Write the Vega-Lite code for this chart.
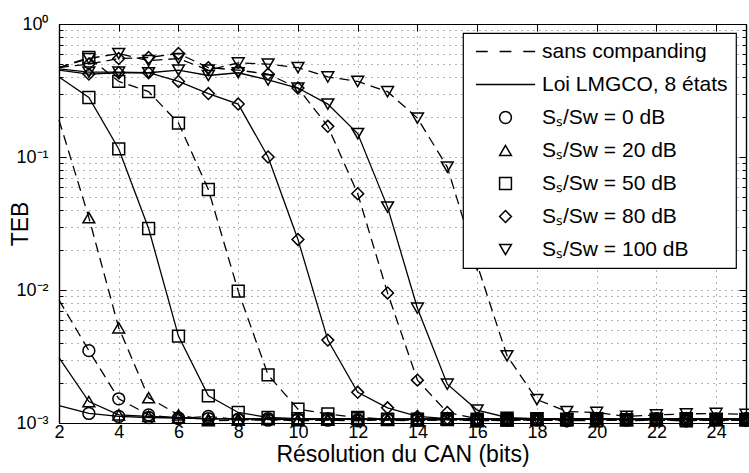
{
"$schema": "https://vega.github.io/schema/vega-lite/v6.json",
"width": 687, "height": 399,
"autosize": {"type": "none"},
"padding": {"left": 59, "top": 24, "right": 3, "bottom": 50},
"background": "white",
"datasets": {"curves": [
{"method":"sans","snr":"0","x":2,"y":0.0084},{"method":"sans","snr":"0","x":3,"y":0.0035},{"method":"sans","snr":"0","x":4,"y":0.00152},{"method":"sans","snr":"0","x":5,"y":0.00115},{"method":"sans","snr":"0","x":6,"y":0.00108},{"method":"sans","snr":"0","x":7,"y":0.00112},{"method":"sans","snr":"0","x":8,"y":0.00106},{"method":"sans","snr":"0","x":9,"y":0.00105},{"method":"sans","snr":"0","x":10,"y":0.00107},{"method":"sans","snr":"0","x":11,"y":0.00105},{"method":"sans","snr":"0","x":12,"y":0.00104},{"method":"sans","snr":"0","x":13,"y":0.00106},{"method":"sans","snr":"0","x":14,"y":0.00105},{"method":"sans","snr":"0","x":15,"y":0.00107},{"method":"sans","snr":"0","x":16,"y":0.00104},{"method":"sans","snr":"0","x":17,"y":0.00106},{"method":"sans","snr":"0","x":18,"y":0.00105},{"method":"sans","snr":"0","x":19,"y":0.00104},{"method":"sans","snr":"0","x":20,"y":0.00106},{"method":"sans","snr":"0","x":21,"y":0.00105},{"method":"sans","snr":"0","x":22,"y":0.00107},{"method":"sans","snr":"0","x":23,"y":0.00104},{"method":"sans","snr":"0","x":24,"y":0.00106},{"method":"sans","snr":"0","x":25,"y":0.00105},
{"method":"loi","snr":"0","x":2,"y":0.00135},{"method":"loi","snr":"0","x":3,"y":0.00118},{"method":"loi","snr":"0","x":4,"y":0.00112},{"method":"loi","snr":"0","x":5,"y":0.0011},{"method":"loi","snr":"0","x":6,"y":0.00109},{"method":"loi","snr":"0","x":7,"y":0.00108},{"method":"loi","snr":"0","x":8,"y":0.00107},{"method":"loi","snr":"0","x":9,"y":0.00108},{"method":"loi","snr":"0","x":10,"y":0.00107},{"method":"loi","snr":"0","x":11,"y":0.00108},{"method":"loi","snr":"0","x":12,"y":0.00106},{"method":"loi","snr":"0","x":13,"y":0.00107},{"method":"loi","snr":"0","x":14,"y":0.00108},{"method":"loi","snr":"0","x":15,"y":0.00107},{"method":"loi","snr":"0","x":16,"y":0.00106},{"method":"loi","snr":"0","x":17,"y":0.00108},{"method":"loi","snr":"0","x":18,"y":0.00107},{"method":"loi","snr":"0","x":19,"y":0.00108},{"method":"loi","snr":"0","x":20,"y":0.00106},{"method":"loi","snr":"0","x":21,"y":0.00107},{"method":"loi","snr":"0","x":22,"y":0.00108},{"method":"loi","snr":"0","x":23,"y":0.00107},{"method":"loi","snr":"0","x":24,"y":0.00106},{"method":"loi","snr":"0","x":25,"y":0.00108},
{"method":"sans","snr":"20","x":2,"y":0.19},{"method":"sans","snr":"20","x":3,"y":0.035},{"method":"sans","snr":"20","x":4,"y":0.0052},{"method":"sans","snr":"20","x":5,"y":0.00155},{"method":"sans","snr":"20","x":6,"y":0.00115},{"method":"sans","snr":"20","x":7,"y":0.00104},{"method":"sans","snr":"20","x":8,"y":0.00105},{"method":"sans","snr":"20","x":9,"y":0.00106},{"method":"sans","snr":"20","x":10,"y":0.00104},{"method":"sans","snr":"20","x":11,"y":0.00105},{"method":"sans","snr":"20","x":12,"y":0.00107},{"method":"sans","snr":"20","x":13,"y":0.00105},{"method":"sans","snr":"20","x":14,"y":0.00104},{"method":"sans","snr":"20","x":15,"y":0.00106},{"method":"sans","snr":"20","x":16,"y":0.00105},{"method":"sans","snr":"20","x":17,"y":0.00104},{"method":"sans","snr":"20","x":18,"y":0.00106},{"method":"sans","snr":"20","x":19,"y":0.00105},{"method":"sans","snr":"20","x":20,"y":0.00107},{"method":"sans","snr":"20","x":21,"y":0.00104},{"method":"sans","snr":"20","x":22,"y":0.00105},{"method":"sans","snr":"20","x":23,"y":0.00106},{"method":"sans","snr":"20","x":24,"y":0.00104},{"method":"sans","snr":"20","x":25,"y":0.00105},
{"method":"loi","snr":"20","x":2,"y":0.0031},{"method":"loi","snr":"20","x":3,"y":0.00145},{"method":"loi","snr":"20","x":4,"y":0.00115},{"method":"loi","snr":"20","x":5,"y":0.00112},{"method":"loi","snr":"20","x":6,"y":0.0011},{"method":"loi","snr":"20","x":7,"y":0.00107},{"method":"loi","snr":"20","x":8,"y":0.00108},{"method":"loi","snr":"20","x":9,"y":0.00107},{"method":"loi","snr":"20","x":10,"y":0.00106},{"method":"loi","snr":"20","x":11,"y":0.00108},{"method":"loi","snr":"20","x":12,"y":0.00107},{"method":"loi","snr":"20","x":13,"y":0.00108},{"method":"loi","snr":"20","x":14,"y":0.00106},{"method":"loi","snr":"20","x":15,"y":0.00107},{"method":"loi","snr":"20","x":16,"y":0.00108},{"method":"loi","snr":"20","x":17,"y":0.00107},{"method":"loi","snr":"20","x":18,"y":0.00106},{"method":"loi","snr":"20","x":19,"y":0.00108},{"method":"loi","snr":"20","x":20,"y":0.00107},{"method":"loi","snr":"20","x":21,"y":0.00106},{"method":"loi","snr":"20","x":22,"y":0.00108},{"method":"loi","snr":"20","x":23,"y":0.00107},{"method":"loi","snr":"20","x":24,"y":0.00108},{"method":"loi","snr":"20","x":25,"y":0.00106},
{"method":"sans","snr":"50","x":2,"y":0.47},{"method":"sans","snr":"50","x":3,"y":0.56},{"method":"sans","snr":"50","x":4,"y":0.37},{"method":"sans","snr":"50","x":5,"y":0.31},{"method":"sans","snr":"50","x":6,"y":0.18},{"method":"sans","snr":"50","x":7,"y":0.057},{"method":"sans","snr":"50","x":8,"y":0.0098},{"method":"sans","snr":"50","x":9,"y":0.0023},{"method":"sans","snr":"50","x":10,"y":0.00127},{"method":"sans","snr":"50","x":11,"y":0.00117},{"method":"sans","snr":"50","x":12,"y":0.0011},{"method":"sans","snr":"50","x":13,"y":0.00107},{"method":"sans","snr":"50","x":14,"y":0.00105},{"method":"sans","snr":"50","x":15,"y":0.00106},{"method":"sans","snr":"50","x":16,"y":0.00104},{"method":"sans","snr":"50","x":17,"y":0.00105},{"method":"sans","snr":"50","x":18,"y":0.00107},{"method":"sans","snr":"50","x":19,"y":0.00105},{"method":"sans","snr":"50","x":20,"y":0.00104},{"method":"sans","snr":"50","x":21,"y":0.00106},{"method":"sans","snr":"50","x":22,"y":0.00105},{"method":"sans","snr":"50","x":23,"y":0.00104},{"method":"sans","snr":"50","x":24,"y":0.00106},{"method":"sans","snr":"50","x":25,"y":0.00105},
{"method":"loi","snr":"50","x":2,"y":0.40},{"method":"loi","snr":"50","x":3,"y":0.28},{"method":"loi","snr":"50","x":4,"y":0.115},{"method":"loi","snr":"50","x":5,"y":0.029},{"method":"loi","snr":"50","x":6,"y":0.0045},{"method":"loi","snr":"50","x":7,"y":0.0016},{"method":"loi","snr":"50","x":8,"y":0.0012},{"method":"loi","snr":"50","x":9,"y":0.0011},{"method":"loi","snr":"50","x":10,"y":0.00108},{"method":"loi","snr":"50","x":11,"y":0.00107},{"method":"loi","snr":"50","x":12,"y":0.00108},{"method":"loi","snr":"50","x":13,"y":0.00106},{"method":"loi","snr":"50","x":14,"y":0.00107},{"method":"loi","snr":"50","x":15,"y":0.00108},{"method":"loi","snr":"50","x":16,"y":0.00107},{"method":"loi","snr":"50","x":17,"y":0.00106},{"method":"loi","snr":"50","x":18,"y":0.00108},{"method":"loi","snr":"50","x":19,"y":0.00107},{"method":"loi","snr":"50","x":20,"y":0.00108},{"method":"loi","snr":"50","x":21,"y":0.00106},{"method":"loi","snr":"50","x":22,"y":0.00107},{"method":"loi","snr":"50","x":23,"y":0.00108},{"method":"loi","snr":"50","x":24,"y":0.00107},{"method":"loi","snr":"50","x":25,"y":0.00106},
{"method":"sans","snr":"80","x":2,"y":0.47},{"method":"sans","snr":"80","x":3,"y":0.5},{"method":"sans","snr":"80","x":4,"y":0.55},{"method":"sans","snr":"80","x":5,"y":0.56},{"method":"sans","snr":"80","x":6,"y":0.6},{"method":"sans","snr":"80","x":7,"y":0.47},{"method":"sans","snr":"80","x":8,"y":0.45},{"method":"sans","snr":"80","x":9,"y":0.42},{"method":"sans","snr":"80","x":10,"y":0.33},{"method":"sans","snr":"80","x":11,"y":0.17},{"method":"sans","snr":"80","x":12,"y":0.053},{"method":"sans","snr":"80","x":13,"y":0.0095},{"method":"sans","snr":"80","x":14,"y":0.0021},{"method":"sans","snr":"80","x":15,"y":0.0012},{"method":"sans","snr":"80","x":16,"y":0.00108},{"method":"sans","snr":"80","x":17,"y":0.00105},{"method":"sans","snr":"80","x":18,"y":0.00106},{"method":"sans","snr":"80","x":19,"y":0.00104},{"method":"sans","snr":"80","x":20,"y":0.00105},{"method":"sans","snr":"80","x":21,"y":0.00107},{"method":"sans","snr":"80","x":22,"y":0.00105},{"method":"sans","snr":"80","x":23,"y":0.00104},{"method":"sans","snr":"80","x":24,"y":0.00106},{"method":"sans","snr":"80","x":25,"y":0.00105},
{"method":"loi","snr":"80","x":2,"y":0.45},{"method":"loi","snr":"80","x":3,"y":0.42},{"method":"loi","snr":"80","x":4,"y":0.43},{"method":"loi","snr":"80","x":5,"y":0.43},{"method":"loi","snr":"80","x":6,"y":0.37},{"method":"loi","snr":"80","x":7,"y":0.30},{"method":"loi","snr":"80","x":8,"y":0.25},{"method":"loi","snr":"80","x":9,"y":0.10},{"method":"loi","snr":"80","x":10,"y":0.024},{"method":"loi","snr":"80","x":11,"y":0.0042},{"method":"loi","snr":"80","x":12,"y":0.0017},{"method":"loi","snr":"80","x":13,"y":0.0013},{"method":"loi","snr":"80","x":14,"y":0.00112},{"method":"loi","snr":"80","x":15,"y":0.00108},{"method":"loi","snr":"80","x":16,"y":0.00107},{"method":"loi","snr":"80","x":17,"y":0.00108},{"method":"loi","snr":"80","x":18,"y":0.00106},{"method":"loi","snr":"80","x":19,"y":0.00107},{"method":"loi","snr":"80","x":20,"y":0.00108},{"method":"loi","snr":"80","x":21,"y":0.00107},{"method":"loi","snr":"80","x":22,"y":0.00106},{"method":"loi","snr":"80","x":23,"y":0.00108},{"method":"loi","snr":"80","x":24,"y":0.00107},{"method":"loi","snr":"80","x":25,"y":0.00108},
{"method":"sans","snr":"100","x":2,"y":0.47},{"method":"sans","snr":"100","x":3,"y":0.55},{"method":"sans","snr":"100","x":4,"y":0.6},{"method":"sans","snr":"100","x":5,"y":0.53},{"method":"sans","snr":"100","x":6,"y":0.55},{"method":"sans","snr":"100","x":7,"y":0.45},{"method":"sans","snr":"100","x":8,"y":0.51},{"method":"sans","snr":"100","x":9,"y":0.50},{"method":"sans","snr":"100","x":10,"y":0.47},{"method":"sans","snr":"100","x":11,"y":0.40},{"method":"sans","snr":"100","x":12,"y":0.37},{"method":"sans","snr":"100","x":13,"y":0.31},{"method":"sans","snr":"100","x":14,"y":0.196},{"method":"sans","snr":"100","x":15,"y":0.084},{"method":"sans","snr":"100","x":16,"y":0.0155},{"method":"sans","snr":"100","x":17,"y":0.0032},{"method":"sans","snr":"100","x":18,"y":0.0015},{"method":"sans","snr":"100","x":19,"y":0.00122},{"method":"sans","snr":"100","x":20,"y":0.0012},{"method":"sans","snr":"100","x":21,"y":0.00112},{"method":"sans","snr":"100","x":22,"y":0.00115},{"method":"sans","snr":"100","x":23,"y":0.00117},{"method":"sans","snr":"100","x":24,"y":0.00118},{"method":"sans","snr":"100","x":25,"y":0.00116},
{"method":"loi","snr":"100","x":2,"y":0.46},{"method":"loi","snr":"100","x":3,"y":0.435},{"method":"loi","snr":"100","x":4,"y":0.435},{"method":"loi","snr":"100","x":5,"y":0.43},{"method":"loi","snr":"100","x":6,"y":0.45},{"method":"loi","snr":"100","x":7,"y":0.41},{"method":"loi","snr":"100","x":8,"y":0.43},{"method":"loi","snr":"100","x":9,"y":0.38},{"method":"loi","snr":"100","x":10,"y":0.33},{"method":"loi","snr":"100","x":11,"y":0.25},{"method":"loi","snr":"100","x":12,"y":0.15},{"method":"loi","snr":"100","x":13,"y":0.042},{"method":"loi","snr":"100","x":14,"y":0.0073},{"method":"loi","snr":"100","x":15,"y":0.00196},{"method":"loi","snr":"100","x":16,"y":0.00125},{"method":"loi","snr":"100","x":17,"y":0.0011},{"method":"loi","snr":"100","x":18,"y":0.00108},{"method":"loi","snr":"100","x":19,"y":0.00107},{"method":"loi","snr":"100","x":20,"y":0.00108},{"method":"loi","snr":"100","x":21,"y":0.00106},{"method":"loi","snr":"100","x":22,"y":0.00107},{"method":"loi","snr":"100","x":23,"y":0.00108},{"method":"loi","snr":"100","x":24,"y":0.00107},{"method":"loi","snr":"100","x":25,"y":0.00108}
]},
"data": {"name": "curves"},
"layer": [
  {
    "transform": [{"filter": "datum.method === 'sans'"}],
    "mark": {"type": "line", "color": "black", "strokeWidth": 1.3, "strokeDash": [10, 6]},
    "encoding": {
      "detail": {"field": "snr", "type": "nominal"},
      "x": {"field": "x", "type": "quantitative", "scale": {"domain": [2, 25], "nice": false, "zero": false},
        "axis": {"orient": "bottom", "values": [2,4,6,8,10,12,14,16,18,20,22,24], "grid": true, "tickSize": -7, "labelPadding": 7, "labelFlush": false, "labelOverlap": false, "labelFontSize": 18, "title": "Résolution du CAN (bits)", "titleFontSize": 23, "titleFontWeight": "normal", "titlePadding": 2}},
      "y": {"field": "y", "type": "quantitative", "scale": {"type": "log", "domain": [0.001, 1], "nice": false},
        "axis": {"orient": "left", "values": [0.001,0.002,0.003,0.004,0.005,0.006,0.007,0.008,0.009,0.01,0.02,0.03,0.04,0.05,0.06,0.07,0.08,0.09,0.1,0.2,0.3,0.4,0.5,0.6,0.7,0.8,0.9,1], "grid": true, "tickSize": -4, "labels": false, "title": null}}
    }
  },
  {
    "transform": [{"filter": "datum.method === 'loi'"}],
    "mark": {"type": "line", "color": "black", "strokeWidth": 1.3},
    "encoding": {
      "detail": {"field": "snr", "type": "nominal"},
      "x": {"field": "x", "type": "quantitative", "scale": {"domain": [2, 25], "nice": false, "zero": false},
        "axis": {"orient": "top", "values": [2,4,6,8,10,12,14,16,18,20,22,24], "grid": false, "tickSize": -7, "labels": false, "title": null}},
      "y": {"field": "y", "type": "quantitative", "scale": {"type": "log", "domain": [0.001, 1], "nice": false},
        "axis": {"orient": "left", "values": [0.001, 0.01, 0.1, 1], "grid": false, "tickSize": -7, "labelPadding": 18, "labelFlush": false, "labelOverlap": false, "labelFontSize": 18,
          "labelExpr": "abs(datum.value - 1) < 1e-9 ? '10⁰' : abs(datum.value - 0.1) < 1e-9 ? '10⁻¹' : abs(datum.value - 0.01) < 1e-10 ? '10⁻²' : '10⁻³'",
          "title": "TEB", "titleFontSize": 23, "titleFontWeight": "normal", "titlePadding": -17}}
    }
  },
  {
    "transform": [{"filter": "datum.method === 'sans' && datum.x >= 3"}],
    "mark": {"type": "point", "filled": false, "color": "black", "opacity": 1, "size": 140, "strokeWidth": 1.5},
    "encoding": {
      "shape": {"field": "snr", "type": "nominal",
        "scale": {"domain": ["sans companding", "Loi LMGCO, 8 états", "0", "20", "50", "80", "100"],
                  "range": ["M-5,0H-3M-1,0H1M3,0H5", "M-5,0H5", "circle", "triangle-up", "square", "diamond", "triangle-down"]},
        "legend": {"orient": "none", "legendX": 404, "legendY": 9, "direction": "vertical", "title": null,
          "fillColor": "white", "strokeColor": "black", "padding": 8, "labelFont": "Liberation Sans", "labelFontSize": 21, "labelColor": "black", "labelLimit": 400,
          "symbolSize": 140, "symbolStrokeWidth": 1.5, "symbolStrokeColor": "black", "symbolFillColor": "transparent",
          "symbolOffset": 24, "labelOffset": 26, "rowPadding": 11,
          "labelExpr": "length(datum.label) < 4 ? 'Sₛ/Sw = ' + datum.label + ' dB' : datum.label"}},
      "x": {"field": "x", "type": "quantitative", "scale": {"domain": [2, 25], "nice": false, "zero": false}, "axis": null},
      "y": {"field": "y", "type": "quantitative", "scale": {"type": "log", "domain": [0.001, 1], "nice": false},
        "axis": {"orient": "right", "values": [0.001, 0.01, 0.1, 1], "grid": false, "tickSize": -7, "labels": false, "title": null}}
    }
  },
  {
    "transform": [{"filter": "datum.method === 'loi' && datum.x >= 3"}],
    "mark": {"type": "point", "filled": false, "color": "black", "opacity": 1, "size": 140, "strokeWidth": 1.5},
    "encoding": {
      "shape": {"field": "snr", "type": "nominal",
        "scale": {"domain": ["sans companding", "Loi LMGCO, 8 états", "0", "20", "50", "80", "100"],
                  "range": ["M-5,0H-3M-1,0H1M3,0H5", "M-5,0H5", "circle", "triangle-up", "square", "diamond", "triangle-down"]},
        "legend": {"orient": "none", "legendX": 404, "legendY": 9, "direction": "vertical", "title": null,
          "fillColor": "white", "strokeColor": "black", "padding": 8, "labelFont": "Liberation Sans", "labelFontSize": 21, "labelColor": "black", "labelLimit": 400,
          "symbolSize": 140, "symbolStrokeWidth": 1.5, "symbolStrokeColor": "black", "symbolFillColor": "transparent",
          "symbolOffset": 24, "labelOffset": 26, "rowPadding": 11,
          "labelExpr": "length(datum.label) < 4 ? 'Sₛ/Sw = ' + datum.label + ' dB' : datum.label"}},
      "x": {"field": "x", "type": "quantitative", "scale": {"domain": [2, 25], "nice": false, "zero": false}, "axis": null},
      "y": {"field": "y", "type": "quantitative", "scale": {"type": "log", "domain": [0.001, 1], "nice": false},
        "axis": {"orient": "right", "values": [0.001,0.002,0.003,0.004,0.005,0.006,0.007,0.008,0.009,0.01,0.02,0.03,0.04,0.05,0.06,0.07,0.08,0.09,0.1,0.2,0.3,0.4,0.5,0.6,0.7,0.8,0.9,1], "grid": false, "tickSize": -4, "labels": false, "title": null}}
    }
  }
],
"resolve": {"axis": {"x": "independent", "y": "independent"}},
"config": {
  "font": "Liberation Sans",
  "view": {"stroke": null},
  "axis": {"labelFont": "Liberation Sans", "titleFont": "Liberation Sans", "labelColor": "black", "titleColor": "black",
    "domainColor": "black", "domainWidth": 1.2, "tickColor": "black", "tickWidth": 1,
    "gridColor": "black", "gridOpacity": 0.6, "gridDash": [1, 5], "gridWidth": 1},
  "legend": {"strokeWidth": 1.2}
}
}
